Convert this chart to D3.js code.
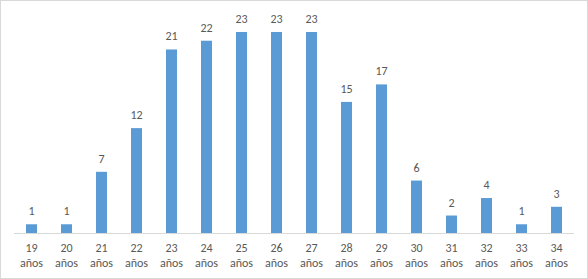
<!DOCTYPE html>
<html lang="es">
<head>
    <meta charset="UTF-8">
    <script src="https://d3js.org/d3.v7.min.js"></script>
    <title>Edades</title>
    <style>
        body { margin: 0; background: #fff; }
        svg { display: block; }
        text { font-family: Calibri, Carlito, "Liberation Sans", Arial, sans-serif; fill: #595959; }
    </style>
</head>
<body>
    <svg></svg>
    <script>
        const ages = ['19', '20', '21', '22', '23', '24', '25', '26', '27', '28', '29', '30', '31', '32', '33', '34'];
        const counts = [1, 1, 7, 12, 21, 22, 23, 23, 23, 15, 17, 6, 2, 4, 1, 3];
        const unit = 'años';

        const width = 588;
        const height = 279;
        const svg = d3.select('svg')
            .attr('width', width)
            .attr('height', height);

        // outer chart border
        svg.append('rect')
            .attr('x', 0.5).attr('y', 0.5)
            .attr('width', width - 1).attr('height', height - 1)
            .attr('fill', '#fff')
            .attr('stroke', '#d9d9d9');

        const x = d3.scaleBand()
            .domain(ages)
            .range([14, 574]);

        const y = d3.scaleLinear()
            .domain([0, 25])
            .range([233, 14.5]);

        const barW = 11;

        svg.append('g')
            .selectAll('rect')
            .data(counts)
            .enter().append('rect')
            .attr('x', (d, i) => x(ages[i]) + x.bandwidth() / 2 - barW / 2)
            .attr('y', d => y(d))
            .attr('width', barW)
            .attr('height', d => y(0) - y(d))
            .attr('fill', '#5b9bd5');

        // value labels
        svg.append('g')
            .selectAll('text')
            .data(counts)
            .enter().append('text')
            .attr('x', (d, i) => x(ages[i]) + x.bandwidth() / 2)
            .attr('y', d => y(d) - 9)
            .attr('text-anchor', 'middle')
            .style('font-size', '12px')
            .text(d => d);

        // category axis
        svg.append('line')
            .attr('x1', 14).attr('x2', 574)
            .attr('y1', 233.5).attr('y2', 233.5)
            .attr('stroke', '#d9d9d9');

        const ticks = svg.append('g')
            .selectAll('text')
            .data(ages)
            .enter().append('text')
            .attr('x', d => x(d) + x.bandwidth() / 2)
            .attr('text-anchor', 'middle')
            .style('font-size', '12px');

        ticks.append('tspan')
            .attr('x', d => x(d) + x.bandwidth() / 2)
            .attr('y', 252)
            .text(d => d);
        ticks.append('tspan')
            .attr('x', d => x(d) + x.bandwidth() / 2)
            .attr('y', 267)
            .text(unit);
    </script>
</body>
</html>
